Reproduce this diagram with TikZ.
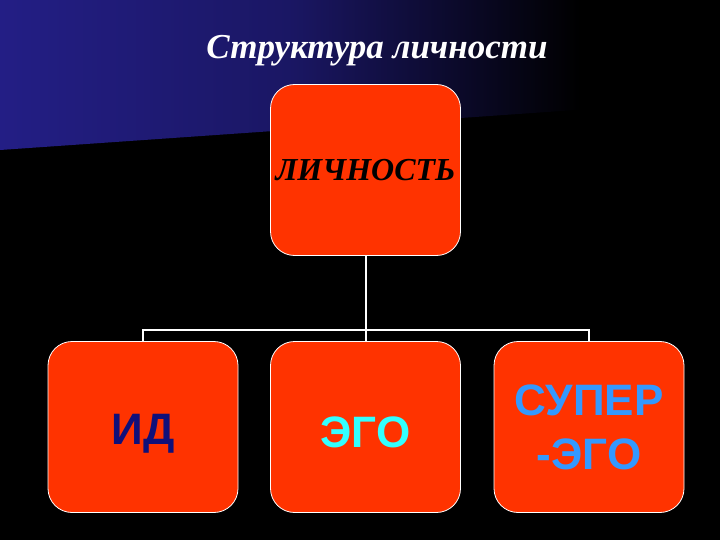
\documentclass[tikz,border=0pt]{standalone}
\usepackage{fontspec}
\setmainfont{Liberation Serif}
\newfontfamily\arialf{Liberation Sans}
\definecolor{boxred}{HTML}{FF3300}
\definecolor{bandblue}{HTML}{231E85}
\definecolor{idblue}{HTML}{10107A}
\definecolor{egocyan}{HTML}{33FFFF}
\definecolor{superblue}{HTML}{3399FF}
\begin{document}
\begin{tikzpicture}[x=1pt,y=-1pt,
  rbox/.style={draw=white,line width=0.8pt,fill=boxred,rounded corners=24pt,
    minimum width=190pt,minimum height=171pt,inner sep=0pt,align=center},
  conn/.style={draw=white,line width=2pt}]
\useasboundingbox (0,0) rectangle (720,540);
\fill[black] (0,0) rectangle (720,540);
\begin{scope}
\clip (0,0) -- (720,0) -- (720,100) -- (0,150) -- cycle;
\shade[left color=bandblue,right color=black,middle color=bandblue!75!black] (0,0) rectangle (580,160);
\end{scope}
\node[text=white,font=\fontsize{35}{40}\selectfont\bfseries\itshape] (title) at (377,51) {Структура личности};
\node[rbox,font=\fontsize{32}{34}\selectfont\bfseries\itshape] (top) at (365.5,170) {ЛИЧНОСТЬ};
\node[rbox,text=idblue,font=\arialf\fontsize{44}{50}\selectfont\bfseries] (id) at (143,427) {\rule{0pt}{44pt}ИД};
\node[rbox,text=egocyan,font=\arialf\fontsize{44}{50}\selectfont\bfseries] (ego) at (365.5,427) {\rule{0pt}{42pt}ЭГО};
\node[rbox,text=superblue,font=\arialf\fontsize{44}{54}\selectfont\bfseries] (super) at (589,427) {СУПЕР\\-ЭГО};
\coordinate (hub) at (365.5,330);
\draw[conn] (top.south) -- (hub);
\draw[conn] (id.north) |- (hub) -| (super.north);
\draw[conn] (hub) -- (ego.north);
\end{tikzpicture}
\end{document}
